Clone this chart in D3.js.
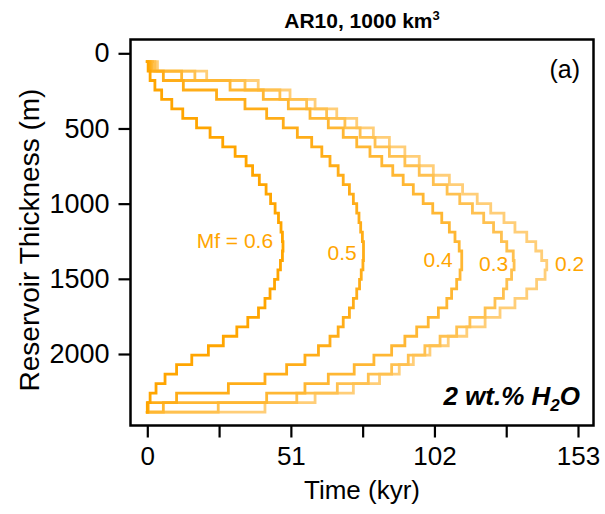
<!DOCTYPE html>
<html><head><meta charset="utf-8">
<script src="https://cdn.jsdelivr.net/npm/d3@7/dist/d3.min.js"></script>
<style>
body{margin:0;background:#fff;}
svg{display:block;font-family:"Liberation Sans",Arial,sans-serif;}
</style>
</head><body>
<svg id="chart" width="605" height="514"></svg>
<script>
// ---- data ----
const thickness = [55,118,181,244,307,370,433,496,559,622,685,748,811,874,937,1000,1063,1126,1189,1252,1315,1378,1441,1504,1567,1630,1693,1756,1819,1882,1945,2008,2071,2134,2197,2260,2323,2386];
const mfValues = [0.6, 0.5, 0.4, 0.3, 0.2];
const mfLabels = ["Mf = 0.6", "0.5", "0.4", "0.3", "0.2"];
// step times (kyr): start, vertical steps between successive thickness levels, end
const time06 = [0,0.3,1.0,2.7,5.1,8.7,12.6,17.5,22.3,26.8,31.2,35.1,37.4,39.8,42.2,43.8,45.4,46.6,47.5,48.0,48.2,48.0,47.3,46.4,45.2,43.6,41.8,39.5,35.7,31.8,27.0,21.7,15.8,10.4,6.3,3.1,1.0,0,0];
const time05 = [0,1.0,5.7,12.8,24.6,34.7,42.4,48.3,53.3,58.4,62.0,64.9,67.8,69.6,71.8,73.2,74.4,75.2,75.8,76.4,76.8,76.8,76.6,76.0,75.4,74.4,73.2,71.8,69.6,67.8,64.9,60.8,56.0,49.5,41.8,28.8,10.4,0.3,0];
const time04 = [0,1.8,12.2,29.4,41.2,50.1,57.8,64.3,69.6,74.4,79.1,83.3,87.2,90.9,94.5,98.0,101.4,104.6,107.3,109.3,110.8,111.7,111.7,111.1,109.9,108.1,106.4,103.4,99.8,95.7,91.5,86.8,80.5,73.5,64.3,56.0,42.4,5.7,0];
const time03 = [0,2.7,16.9,34.7,47.1,56.6,63.7,70.2,75.6,80.9,86.0,91.5,96.6,101.6,106.5,111.0,115.5,119.5,123.0,125.8,127.7,130.0,130.3,129.4,127.7,126.5,123.5,120.0,114.6,109.9,104.0,98.6,92.7,86.8,78.5,67.5,53.1,25.2,0];
const time02 = [0,3.6,21.1,39.4,50.7,59.6,67.3,74.4,80.3,86.0,91.5,96.6,101.6,107.3,112.0,117.2,122.0,126.7,130.6,134.8,138.0,140.1,141.9,141.3,138.3,134.8,130.6,125.3,120.0,113.5,106.9,100.4,94.5,89.5,82.5,73.2,59.6,41.8,0];
const seriesTimes = [time06, time05, time04, time03, time02];
const lineColors = ["#FFA500", "#FFAD18", "#FFB733", "#FFC150", "#FFCE78"];
// label anchor positions in data units (time, thickness) and text anchors
const labelTime = [44.7, 74.4, 108.5, 128.2, 144.8];
const labelThick = [1295, 1374, 1421, 1447, 1447];
const labelAnchor = ["end", "end", "end", "end", "start"];
const xTicks = [0, 25.5, 51, 76.5, 102, 127.5, 153];
const xTickLabels = ["0", "", "51", "", "102", "", "153"];
const yTicks = [0, 500, 1000, 1500, 2000];

// ---- layout ----
const svg = d3.select("#chart");
const frame = {left: 130.5, right: 593.5, top: 39.5, bottom: 425.5};
const x = d3.scaleLinear().domain([0, 153]).range([147.3, 578]);
const y = d3.scaleLinear().domain([0, 2000]).range([53.3, 354]);

svg.append("rect").attr("width", 605).attr("height", 514).attr("fill", "#fff");

// curves (lightest first)
const line = d3.line().x(d => x(d[0])).y(d => y(d[1])).curve(d3.curveStepAfter);
const order = [4, 3, 2, 1, 0];
order.forEach(i => {
  const t = seriesTimes[i];
  const pts = thickness.map((h, k) => [t[k], h]);
  pts.push([t[thickness.length], thickness[thickness.length - 1]]);
  svg.append("path").datum(pts)
    .attr("d", line)
    .attr("fill", "none")
    .attr("stroke", lineColors[i])
    .attr("stroke-width", 2.8)
    .attr("stroke-linejoin", "miter")
    .attr("stroke-linecap", "square");
});

// labels
mfLabels.forEach((lab, i) => {
  svg.append("text")
    .attr("x", x(labelTime[i]))
    .attr("y", y(labelThick[i]))
    .attr("text-anchor", labelAnchor[i])
    .attr("font-size", 21)
    .attr("fill", "#FFA500")
    .text(lab);
});

// frame
svg.append("rect")
  .attr("x", frame.left).attr("y", frame.top)
  .attr("width", frame.right - frame.left).attr("height", frame.bottom - frame.top)
  .attr("fill", "none").attr("stroke", "#000").attr("stroke-width", 2.5);

// axes
const xAxis = d3.axisBottom(x).tickValues(xTicks)
  .tickFormat((d, i) => xTickLabels[i]).tickSize(12).tickPadding(9);
const gx = svg.append("g").attr("transform", `translate(0,${frame.bottom})`).call(xAxis);
gx.select(".domain").remove();
gx.selectAll(".tick line").attr("stroke", "#000").attr("stroke-width", 2.2);
gx.selectAll(".tick text").attr("font-size", 26).attr("fill", "#000")
  .attr("font-family", "Liberation Sans, Arial, sans-serif");

const yAxis = d3.axisLeft(y).tickValues(yTicks).tickFormat(d3.format("d")).tickSize(12).tickPadding(9);
const gy = svg.append("g").attr("transform", `translate(${frame.left},0)`).call(yAxis);
gy.select(".domain").remove();
gy.selectAll(".tick line").attr("stroke", "#000").attr("stroke-width", 2.2);
gy.selectAll(".tick text").attr("font-size", 27).attr("fill", "#000")
  .attr("font-family", "Liberation Sans, Arial, sans-serif");

// titles
const title = svg.append("text").attr("x", 362).attr("y", 28)
  .attr("text-anchor", "middle").attr("font-size", 21).attr("font-weight", "bold");
title.append("tspan").text("AR10, 1000 km");
title.append("tspan").attr("font-size", 13).attr("dy", -8).text("3");

svg.append("text").attr("x", 362).attr("y", 499)
  .attr("text-anchor", "middle").attr("font-size", 26).text("Time (kyr)");

svg.append("text").attr("transform", "translate(39,240) rotate(-90)")
  .attr("text-anchor", "middle").attr("font-size", 28).text("Reservoir Thickness (m)");

svg.append("text").attr("x", 580).attr("y", 78)
  .attr("text-anchor", "end").attr("font-size", 25).text("(a)");

const note = svg.append("text").attr("x", 580).attr("y", 405)
  .attr("text-anchor", "end").attr("font-size", 26).attr("font-weight", "bold").attr("font-style", "italic");
note.append("tspan").text("2 wt.% H");
note.append("tspan").attr("font-size", 17).attr("dy", 6).text("2");
note.append("tspan").attr("dy", -6).text("O");
</script>
</body></html>
